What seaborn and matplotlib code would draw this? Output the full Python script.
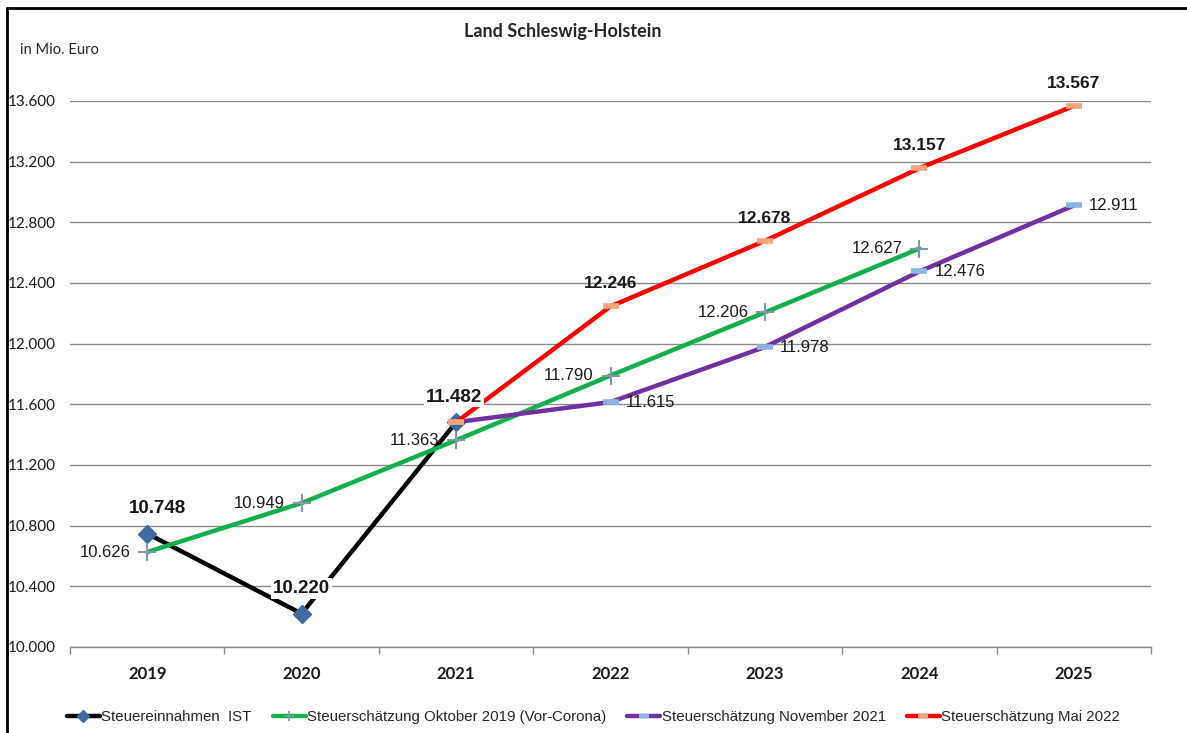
import matplotlib
matplotlib.use("Agg")
import matplotlib.pyplot as plt
import seaborn as sns
import pandas as pd
from matplotlib.lines import Line2D

years = ["2019", "2020", "2021", "2022", "2023", "2024", "2025"]

ist_years = ["2019", "2020", "2021"]
ist_vals = [10748, 10220, 11482]

okt19_years = ["2019", "2020", "2021", "2022", "2023", "2024"]
okt19_vals = [10626, 10949, 11363, 11790, 12206, 12627]

nov21_years = ["2021", "2022", "2023", "2024", "2025"]
nov21_vals = [11482, 11615, 11978, 12476, 12911]

mai22_years = ["2021", "2022", "2023", "2024", "2025"]
mai22_vals = [11482, 12246, 12678, 13157, 13567]

yticks = [10000, 10400, 10800, 11200, 11600, 12000, 12400, 12800, 13200, 13600]
names = ["Steuereinnahmen  IST", "Steuerschätzung Oktober 2019 (Vor-Corona)",
         "Steuerschätzung November 2021", "Steuerschätzung Mai 2022"]

sns.set_theme(style="white")
plt.rcParams["font.family"] = ["Liberation Sans", "DejaVu Sans"]

fig = plt.figure(figsize=(11.87, 7.33), dpi=100)
ax = fig.add_axes([70 / 1187, 1 - 647 / 733, (1151 - 70) / 1187, (647 - 101) / 733])

def pos(ys):
    return [years.index(y) for y in ys]

series = [
    (ist_years, ist_vals, "#000000",
     dict(marker="D", markersize=9.5, markerfacecolor="#3E6AA0", markeredgecolor="#3E6AA0", markeredgewidth=1),
     dict(marker="D", markersize=6, markerfacecolor="#3E6AA0", markeredgecolor="#3E6AA0")),
    (okt19_years, okt19_vals, "#12B04C",
     dict(marker="+", markersize=13, markeredgecolor="#8497A8", markeredgewidth=1.5),
     dict(marker="+", markersize=7, markeredgecolor="#8497A8", markeredgewidth=1.2)),
    (nov21_years, nov21_vals, "#7030A0",
     dict(marker="_", markersize=11, markeredgecolor="#8DB4E2", markeredgewidth=4),
     dict(marker="_", markersize=7, markeredgecolor="#8DB4E2", markeredgewidth=3.2)),
    (mai22_years, mai22_vals, "#FF0000",
     dict(marker="_", markersize=11, markeredgecolor="#F4A67A", markeredgewidth=4),
     dict(marker="_", markersize=7, markeredgecolor="#F4A67A", markeredgewidth=3.2)),
]

handles = []
for i, (ys, vals, col, mk, lmk) in enumerate(series):
    df = pd.DataFrame({"x": pos(ys), "y": vals})
    sns.lineplot(data=df, x="x", y="y", ax=ax, color=col, linewidth=3.2, zorder=3 + i, **mk)
    handles.append(Line2D([0], [0], color=col, linewidth=3.2, **lmk))

lbl_num = lambda v: f"{v:,}".replace(",", ".")
# IST bold, above
for x, v in zip(pos(ist_years), ist_vals):
    dx = 0.05 if x == 0 else (-0.01 if x == 2 else 0)
    ax.annotate(lbl_num(v), (x, v), xytext=(dx * 154, 12), textcoords="offset points",
                ha="center", va="bottom", fontsize=13.5, fontweight="bold", color="#1a1a1a",
                zorder=10, bbox=dict(boxstyle="square,pad=0.1", fc="white", ec="none"))
# Oktober 2019 left
for x, v in zip(pos(okt19_years), okt19_vals):
    ax.annotate(lbl_num(v), (x, v), xytext=(-12, 0), textcoords="offset points",
                ha="right", va="center", fontsize=12, color="#1a1a1a", zorder=9)
# November 2021 right (skip 2021)
for x, v in zip(pos(nov21_years)[1:], nov21_vals[1:]):
    ax.annotate(lbl_num(v), (x, v), xytext=(11, 0), textcoords="offset points",
                ha="left", va="center", fontsize=12, color="#1a1a1a", zorder=9)
# Mai 2022 bold above (skip 2021)
for x, v in zip(pos(mai22_years)[1:], mai22_vals[1:]):
    ax.annotate(lbl_num(v), (x, v), xytext=(0, 11), textcoords="offset points",
                ha="center", va="bottom", fontsize=12.5, fontweight="bold", color="#1a1a1a",
                zorder=9)

ax.set_xlim(-0.5, 6.5)
ax.set_ylim(10000, 13600)
ax.set_yticks(yticks)
ax.set_yticklabels([lbl_num(v) for v in yticks], fontsize=11, family=["Lato", "DejaVu Sans"])
ax.set_xticks(range(len(years)))
ax.set_xticklabels(years, fontsize=12, fontweight="bold", family=["Lato", "DejaVu Sans"])
ax.set_xticks([i - 0.5 for i in range(len(years) + 1)], minor=True)
ax.tick_params(axis="x", which="major", length=0, pad=14, colors="#1a1a1a")
ax.tick_params(axis="x", which="minor", length=5, width=1, color="#888888", direction="out", bottom=True)
ax.tick_params(axis="y", length=0, pad=10, colors="#1a1a1a")
ax.set_xlabel("")
ax.set_ylabel("")
ax.grid(axis="y", color="#8a8a8a", linewidth=1)
ax.grid(axis="x", visible=False)
for s in ["top", "right", "left"]:
    ax.spines[s].set_visible(False)
ax.spines["bottom"].set_color("#8a8a8a")
ax.spines["bottom"].set_linewidth(1)

fig.text(563 / 1187, 1 - 32 / 733, "Land Schleswig-Holstein", ha="center", va="center",
         fontsize=13, fontweight="bold", family=["Lato", "DejaVu Sans"])
fig.text(20 / 1187, 1 - 50 / 733, "in Mio. Euro", ha="left", va="center",
         fontsize=10.5, family=["Lato", "DejaVu Sans"])

leg = fig.legend(handles, names, loc="center", bbox_to_anchor=(0.5, 1 - 717 / 733), ncol=4,
                 frameon=False, handlelength=2.2, handletextpad=0.1, columnspacing=1.4,
                 prop={"family": ["Liberation Sans Narrow", "Liberation Sans", "DejaVu Sans"], "size": 10.8})

# outer border (top and left)
fig.add_artist(Line2D([7 / 1187, 7 / 1187], [0, 1 - 8 / 733], transform=fig.transFigure,
                      color="black", linewidth=2))
fig.add_artist(Line2D([7 / 1187, 1], [1 - 8 / 733, 1 - 8 / 733], transform=fig.transFigure,
                      color="black", linewidth=2))

fig.savefig("out.png", dpi=100)
